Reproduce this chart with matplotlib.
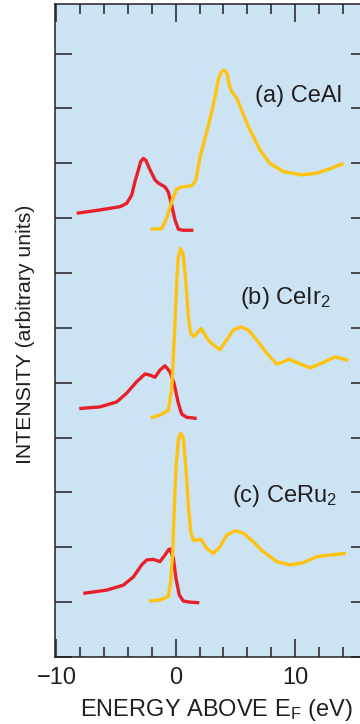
import matplotlib
matplotlib.use("Agg")
import matplotlib.pyplot as plt
from matplotlib.ticker import MultipleLocator

plt.rcParams["font.family"] = ["Liberation Sans", "DejaVu Sans"]
plt.rcParams["mathtext.fontset"] = "custom"
plt.rcParams["mathtext.rm"] = "Liberation Sans"
plt.rcParams["mathtext.it"] = "Liberation Sans:italic"

# curves: energy (eV) and intensity (tick units)
# (a) CeAl
a_red_e = [-8.3, -6.35, -4.67, -4.11, -3.69, -3.41, -3.13, -2.94, -2.71, -2.49,
           -2.15, -1.74, -1.46, -0.90, -0.62, -0.34, -0.06, 0.22, 0.6, 1.48]
a_red_y = [8.09, 8.15, 8.21, 8.27, 8.42, 8.67, 8.88, 9.03, 9.09, 9.05,
           8.88, 8.70, 8.64, 8.57, 8.48, 8.24, 7.97, 7.80, 7.78, 7.78]
a_org_e = [-2.10, -1.17, -0.75, -0.34, 0.08, 0.50, 1.34, 1.70, 2.04, 2.60,
           3.15, 3.57, 3.80, 4.05, 4.30, 4.49, 4.69, 5.11, 5.53, 6.09,
           7.07, 7.90, 9.02, 10.56, 11.82, 12.93, 14.05]
a_org_y = [7.80, 7.81, 8.00, 8.30, 8.53, 8.57, 8.59, 8.70, 9.12, 9.57,
           10.06, 10.52, 10.66, 10.70, 10.64, 10.43, 10.31, 10.19, 9.97, 9.67,
           9.24, 9.00, 8.85, 8.79, 8.82, 8.90, 9.00]

# (b) CeIr2
b_red_e = [-8.08, -6.35, -4.95, -4.11, -3.27, -2.57, -2.15, -1.74, -1.32, -0.90,
           -0.48, -0.14, 0.22, 0.50, 0.92, 1.76]
b_red_y = [4.53, 4.56, 4.65, 4.81, 5.02, 5.16, 5.14, 5.10, 5.23, 5.31,
           5.20, 4.99, 4.63, 4.43, 4.37, 4.35]
b_org_e = [-2.10, -1.32, -0.62, -0.34, -0.20, -0.06, 0.08, 0.22, 0.42, 0.64,
           0.86, 1.06, 1.26, 1.48, 1.76, 2.12, 2.73, 3.15, 3.71, 4.27,
           4.83, 5.47, 6.09, 6.79, 7.63, 8.46, 9.02, 9.52, 10.14, 11.26,
           12.37, 13.35, 14.47]
b_org_y = [4.36, 4.41, 4.50, 4.87, 5.47, 6.08, 6.81, 7.30, 7.45, 7.33,
           6.81, 6.20, 5.90, 5.84, 5.90, 5.99, 5.78, 5.69, 5.60, 5.78,
           5.96, 6.02, 5.96, 5.78, 5.54, 5.34, 5.38, 5.43, 5.37, 5.27,
           5.37, 5.47, 5.41]

# (c) CeRu2
c_red_e = [-7.75, -5.79, -4.39, -3.55, -2.85, -2.43, -1.88, -1.32, -0.90, -0.62,
           -0.48, -0.20, 0.03, 0.30, 0.64, 1.20, 1.98]
c_red_y = [1.16, 1.22, 1.31, 1.46, 1.68, 1.77, 1.78, 1.74, 1.86, 1.95,
           1.97, 1.80, 1.43, 1.13, 1.02, 1.00, 0.99]
c_org_e = [-2.24, -1.32, -0.62, -0.42, -0.25, -0.12, 0.03, 0.22, 0.42, 0.64,
           0.86, 1.06, 1.26, 1.48, 1.76, 2.09, 2.60, 3.15, 3.71, 4.27,
           4.97, 5.67, 6.50, 7.35, 8.47, 9.58, 10.70, 11.82, 12.93, 14.27]
c_org_y = [1.02, 1.04, 1.10, 1.37, 1.92, 2.71, 3.44, 3.96, 4.08, 3.99,
           3.44, 2.77, 2.28, 2.13, 2.13, 2.15, 1.98, 1.89, 2.01, 2.22,
           2.30, 2.26, 2.10, 1.92, 1.74, 1.68, 1.72, 1.83, 1.86, 1.89]

labels = ["(a) CeAl", "(b) CeIr$_2$", "(c) CeRu$_2$"]
label_x = [6.65, 5.39, 4.69]
label_y = [10.11, 6.44, 2.83]

RED = "#e8202a"
ORANGE = "#ffc20e"
INK = "#231f20"

fig = plt.figure(figsize=(3.6, 7.24), dpi=100)
ax = fig.add_axes([0.152, 0.0925, 0.8703, 0.902])
ax.set_facecolor("#cce3f4")

for e, y in [(a_red_e, a_red_y), (b_red_e, b_red_y), (c_red_e, c_red_y)]:
    ax.plot(e, y, color=RED, lw=2.4, solid_joinstyle="round", solid_capstyle="butt")
for e, y in [(a_org_e, a_org_y), (b_org_e, b_org_y), (c_org_e, c_org_y)]:
    ax.plot(e, y, color=ORANGE, lw=2.4, solid_joinstyle="round", solid_capstyle="butt")

for s, x, y in zip(labels, label_x, label_y):
    ax.text(x, y, s, fontsize=17, color=INK, va="baseline", ha="left")

ax.set_xlim(-10.14, 16.12)
ax.set_ylim(0, 11.905)

ax.xaxis.set_major_locator(MultipleLocator(10))
ax.xaxis.set_minor_locator(MultipleLocator(2))
ax.yaxis.set_major_locator(MultipleLocator(1))
ax.set_yticklabels([])
ax.tick_params(axis="x", which="major", direction="in", length=13, width=1.1,
               top=True, bottom=True, labelsize=17, pad=7, colors=INK)
ax.tick_params(axis="x", which="minor", direction="in", length=7.5, width=1.1,
               top=True, bottom=True, colors=INK)
ax.tick_params(axis="y", which="major", direction="in", length=12.5, width=1.1,
               left=True, right=True, labelleft=False, colors=INK)
ax.set_xticks([-10, 0, 10])
ax.set_xticklabels(["\u221210", "0", "10"])

for sp in ax.spines.values():
    sp.set_linewidth(1.1)
    sp.set_color(INK)

ax.set_xlabel("ENERGY ABOVE E$_\\mathrm{F}$ (eV)", fontsize=17, color=INK)
ax.xaxis.set_label_coords(0.515, -0.061)
ax.xaxis.label.set_va("top")
ax.set_ylabel("INTENSITY (arbitrary units)", fontsize=15.3, color=INK)
ax.yaxis.set_label_coords(-0.062, 0.494)

fig.savefig("out.png", dpi=100, facecolor="white")
